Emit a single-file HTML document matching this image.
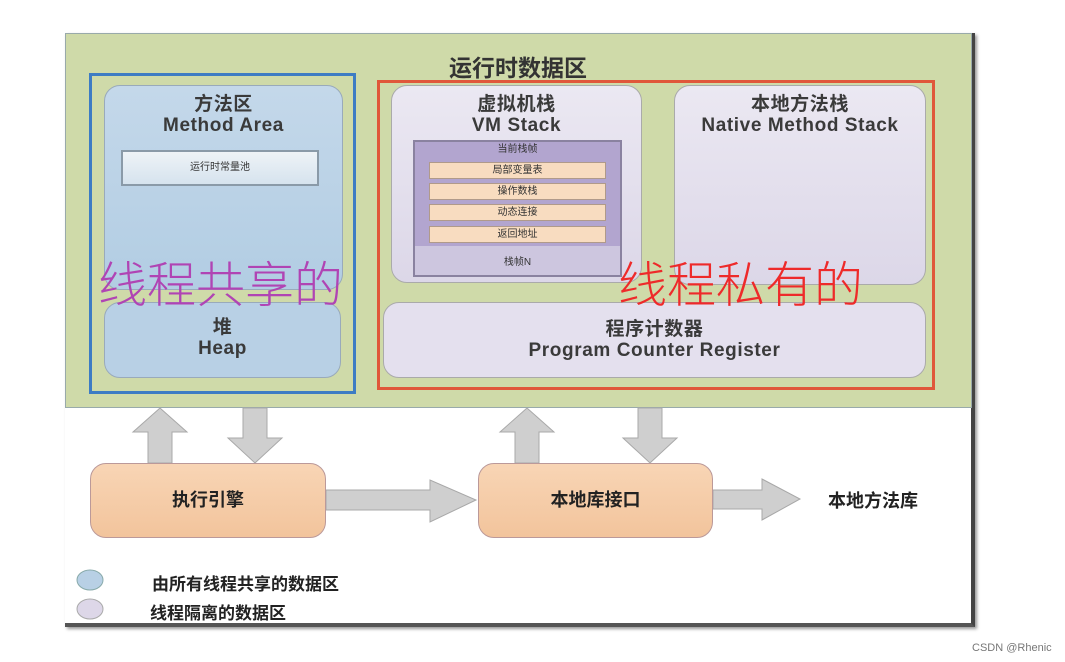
<!DOCTYPE html>
<html><head><meta charset="utf-8"><style>
*{margin:0;padding:0;box-sizing:border-box}
body{width:1065px;height:662px;background:#fff;position:relative;overflow:hidden;font-family:"Liberation Sans","Noto Sans CJK SC",sans-serif;color:#333}
.a{position:absolute}
.c{text-align:center}
.rb{border-radius:16px}
.t{font-size:19px;font-weight:bold;line-height:21px;letter-spacing:0.6px;color:#3a3a3a}
</style></head><body>
<div class="a" style="left:65px;top:33px;width:910px;height:594px;background:#fff;border-right:4px solid #444;border-bottom:4px solid #555;box-shadow:2px 2px 3px #999"></div>
<div class="a" style="left:65px;top:33px;width:907px;height:375px;background:#cfdaa9;border:1px solid #9aa"></div>
<div class="a c" style="left:400px;top:49px;width:236px;font-size:23px;font-weight:bold;color:#333">运行时数据区</div>

<div class="a" style="left:89px;top:73px;width:267px;height:321px;border:3px solid #3d7cc4"></div>
<div class="a rb c t" style="left:104px;top:85px;width:239px;height:205px;background:linear-gradient(#c4d8ea,#b2cde3);border:1px solid #9ab;padding-top:8px">方法区<br>Method Area</div>
<div class="a c" style="left:121px;top:150px;width:198px;height:36px;background:linear-gradient(#eef3f7,#d6e3ee);border:2px solid #8a9aa8;font-size:10px;line-height:32px">运行时常量池</div>
<div class="a rb c t" style="left:104px;top:302px;width:237px;height:76px;background:#b8d0e5;border:1px solid #9ab;padding-top:14px">堆<br>Heap</div>
<div class="a" style="left:98px;top:253px;font-size:49px;color:#b044b4;font-family:'Noto Sans CJK SC',sans-serif;font-weight:300;line-height:58px">线程共享的</div>

<div class="a" style="left:377px;top:80px;width:558px;height:310px;border:3px solid #e0573a"></div>
<div class="a rb c t" style="left:391px;top:85px;width:251px;height:198px;background:linear-gradient(#ebe8f2,#dcd7e8);border:1px solid #aaa;padding-top:8px">虚拟机栈<br>VM Stack</div>
<div class="a" style="left:413px;top:140px;width:209px;height:137px;background:#cdc6df;border:2px solid #8a82a0"></div>
<div class="a c" style="left:415px;top:142px;width:205px;height:104px;background:#b2a5cf;font-size:10px;line-height:16px">当前栈帧</div>
<div class="a c" style="left:429px;top:162px;width:177px;height:17px;background:#f8dcc0;border:1px solid #b09a8a;font-size:10px;line-height:15px">局部变量表</div>
<div class="a c" style="left:429px;top:183px;width:177px;height:17px;background:#f8dcc0;border:1px solid #b09a8a;font-size:10px;line-height:15px">操作数栈</div>
<div class="a c" style="left:429px;top:204px;width:177px;height:17px;background:#f8dcc0;border:1px solid #b09a8a;font-size:10px;line-height:15px">动态连接</div>
<div class="a c" style="left:429px;top:226px;width:177px;height:17px;background:#f8dcc0;border:1px solid #b09a8a;font-size:10px;line-height:15px">返回地址</div>
<div class="a c" style="left:415px;top:253px;width:205px;font-size:10px">栈帧N</div>
<div class="a rb c t" style="left:674px;top:85px;width:252px;height:200px;background:linear-gradient(#ebe8f2,#dcd7e8);border:1px solid #aaa;padding-top:8px">本地方法栈<br>Native Method Stack</div>
<div class="a rb c t" style="left:383px;top:302px;width:543px;height:76px;background:#e4e0ee;border:1px solid #aaa;padding-top:16px">程序计数器<br>Program Counter Register</div>
<div class="a" style="left:618px;top:253px;font-size:49px;color:#ee2a2a;font-family:'Noto Sans CJK SC',sans-serif;font-weight:300;line-height:58px">线程私有的</div>

<svg class="a" style="left:0;top:0" width="1065" height="662">
<g fill="#cfcfcf" stroke="#a8a8a8" stroke-width="1">
<polygon points="148,463 172,463 172,432 187,432 160,408 133,432 148,432"/>
<polygon points="243,408 267,408 267,438 282,438 255,463 228,438 243,438"/>
<polygon points="515,463 539,463 539,432 554,432 527,408 500,432 515,432"/>
<polygon points="638,408 662,408 662,438 677,438 650,463 623,438 638,438"/>
<polygon points="326,490 430,490 430,480 476,500 430,522 430,510 326,510"/>
<polygon points="713,490 762,490 762,479 800,499 762,520 762,509 713,509"/>
</g>
<ellipse cx="90" cy="580" rx="13" ry="10" fill="#b8d0e5" stroke="#8aa" />
<ellipse cx="90" cy="609" rx="13" ry="10" fill="#ddd7e8" stroke="#aaa" />
</svg>
<div class="a rb c" style="left:90px;top:463px;width:236px;height:75px;background:linear-gradient(#f8d5b5,#f2c49c);border:1px solid #b99;font-size:18px;font-weight:bold;line-height:73px;color:#222">执行引擎</div>
<div class="a rb c" style="left:478px;top:463px;width:235px;height:75px;background:linear-gradient(#f8d5b5,#f2c49c);border:1px solid #b99;font-size:18px;font-weight:bold;line-height:73px;color:#222">本地库接口</div>
<div class="a" style="left:828px;top:487px;font-size:18px;font-weight:bold;color:#222">本地方法库</div>
<div class="a" style="left:152px;top:570px;font-size:17px;font-weight:bold;color:#222">由所有线程共享的数据区</div>
<div class="a" style="left:150px;top:599px;font-size:17px;font-weight:bold;color:#222">线程隔离的数据区</div>
<div class="a" style="left:972px;top:642px;font-size:11px;color:#777">CSDN @Rhenic</div>
</body></html>
